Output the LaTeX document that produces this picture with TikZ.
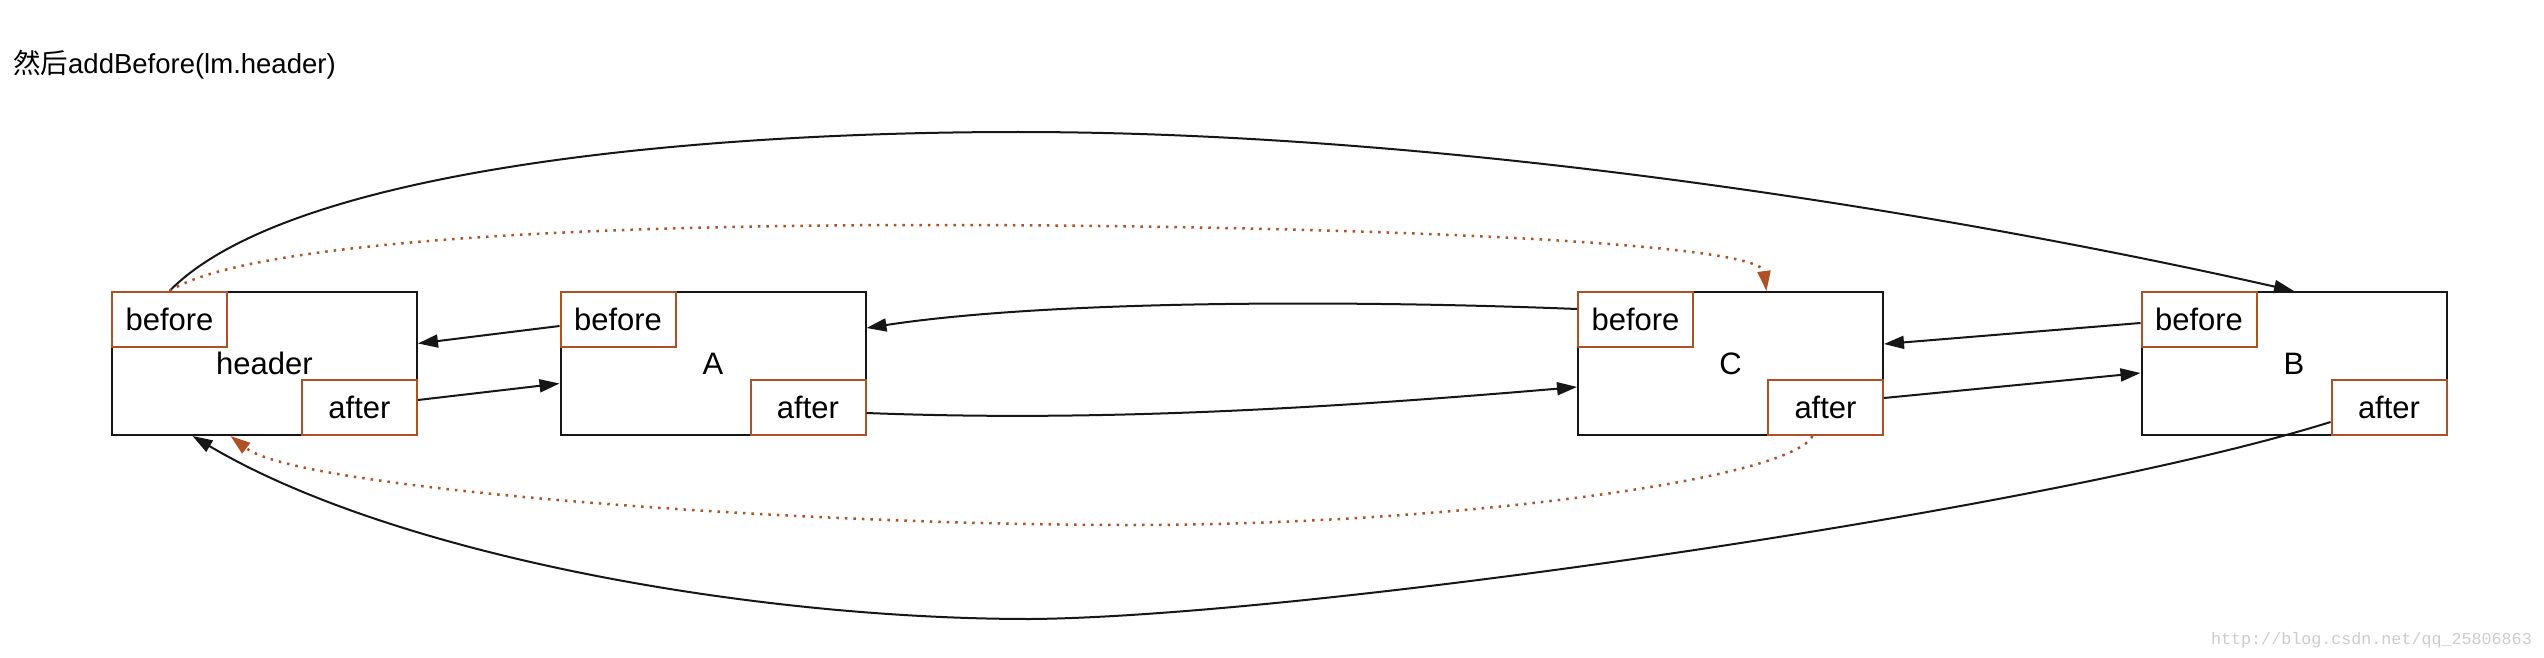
\documentclass[tikz,border=0pt]{standalone}
\usepackage{fontspec}
\setmainfont{Liberation Sans}
\newfontfamily\cjkfont{Noto Sans CJK SC}
\newfontfamily\wmfont{Liberation Mono}
\usetikzlibrary{arrows.meta}
\definecolor{rust}{RGB}{174,82,38}
\definecolor{ink}{RGB}{22,22,22}
\begin{document}
\begin{tikzpicture}[x=1pt,y=-1pt,
  cell/.style={draw=ink, line width=2pt, rectangle, minimum width=305pt, minimum height=143pt,
    inner sep=0pt, fill=white, font=\fontsize{31pt}{37pt}\selectfont},
  slot/.style={draw=rust, line width=2pt, rectangle, minimum width=115pt, minimum height=55pt,
    inner sep=0pt, fill=white, font=\fontsize{31pt}{37pt}\selectfont},
  link/.style={draw=ink, line width=2pt, -{Triangle[length=20pt,width=13pt]}},
  olink/.style={draw=rust, line width=2.5pt, dash pattern=on 2.5pt off 6pt,
    -{Triangle[length=20pt,width=13pt]}},
]
\fill[white] (0,0) rectangle (2544,658);
\useasboundingbox (0,0) rectangle (2544,658);

\node[anchor=west, inner sep=0pt, font=\fontsize{27.5pt}{33pt}\selectfont] (title) at (13,65)
  {{\cjkfont 然后}addBefore(lm.header)};

% boxes
\node[cell] (header) at (264.5,363.5) {header};
\node[cell] (A) at (713,363.5) {A};
\node[cell] (C) at (1730.5,363.5) {C};
\node[cell] (B) at (2294,363.5) {B};

\node[slot, anchor=north west] (hb) at (header.north west) {before};
\node[slot, anchor=south east] (ha) at (header.south east) {after};
\node[slot, anchor=north west] (ab) at (A.north west) {before};
\node[slot, anchor=south east] (aa) at (A.south east) {after};
\node[slot, anchor=north west] (cb) at (C.north west) {before};
\node[slot, anchor=south east] (ca) at (C.south east) {after};
\node[slot, anchor=north west] (bb) at (B.north west) {before};
\node[slot, anchor=south east] (ba) at (B.south east) {after};

% waypoints of the long curves
\coordinate (tp) at (1018,132);
\coordinate (to) at (930,225);
\coordinate (bp) at (1030,619);
\coordinate (op) at (1130,525);

% short links
\draw[link] ([yshift=-6.5pt]ab.west) -- ([yshift=20pt]header.east);
\draw[link] ([yshift=7.5pt]ha.east) -- ([yshift=-20pt]A.west);
\draw[link] ([yshift=10.5pt]cb.west) .. controls (1350,300) and (1050,300) .. ([yshift=35.5pt]A.east);
\draw[link] ([yshift=-5.5pt]aa.east) .. controls (1050,420) and (1250,415) .. ([yshift=-23.5pt]C.west);
\draw[link] ([yshift=-3.5pt]bb.west) -- ([yshift=19.5pt]C.east);
\draw[link] ([yshift=9.5pt]ca.east) -- ([yshift=-9.5pt]B.west);

% long links
\draw[link] (hb.north) .. controls (290,168) and (700,132) .. (tp)
  .. controls (1450,132) and (1944,212) .. (B.north);
\draw[olink] (hb.north) .. controls (250,240) and (600,225) .. (to)
  .. controls (1300,225) and (1760,240) .. ([xshift=36pt]C.north);
\draw[link] ([yshift=-14.5pt]ba.west) .. controls (2050,510) and (1300,617) .. (bp)
  .. controls (750,619) and (393,555) .. ([xshift=-72pt]header.south);
\draw[olink] ([xshift=-13pt]ca.south) .. controls (1790,480) and (1450,525) .. (op)
  .. controls (800,525) and (300,490) .. ([xshift=-34pt]header.south);

\node[anchor=east, inner sep=0pt, text=black!20, font=\wmfont\fontsize{16.7pt}{20pt}\selectfont] (wm)
  at (2532,640) {http://blog.csdn.net/qq\_25806863};
\end{tikzpicture}
\end{document}
